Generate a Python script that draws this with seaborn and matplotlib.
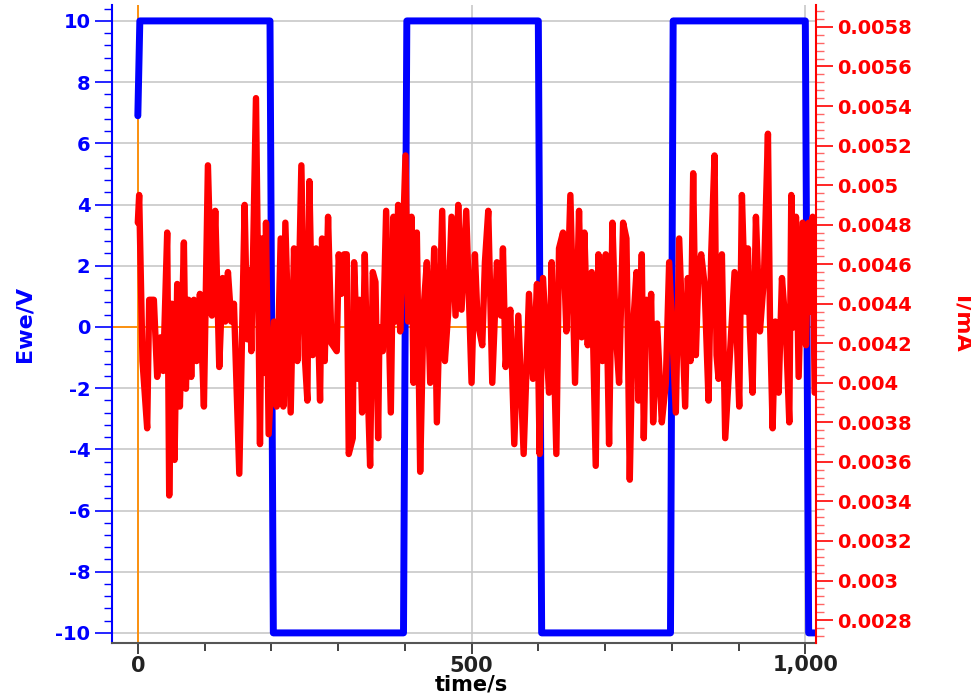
import matplotlib
matplotlib.use('Agg')
import matplotlib.pyplot as plt
import matplotlib.ticker as ticker
import seaborn as sns
import pandas as pd

# Ewe/V - square wave of the potential
ewe_time_s = [0, 3, 198, 203, 398, 403, 600, 605, 798, 802, 1000, 1005, 1015]
ewe_v = [6.9, 10, 10, -10, -10, 10, 10, -10, -10, 10, 10, -10, -10]

# I/mA - noisy current
i_time_s = [0, 2, 7, 14, 17, 24, 29, 34, 38, 44, 47, 51, 55, 59, 63, 69, 72, 76, 80, 84,
            88, 93, 99, 105, 111, 116, 122, 127, 131, 135, 140, 144, 152, 160, 164, 167, 170, 177, 183, 186,
            190, 192, 196, 204, 208, 214, 218, 221, 229, 234, 239, 245, 250, 254, 257, 262, 267, 273, 276, 280,
            285, 290, 298, 301, 305, 309, 313, 316, 322, 324, 330, 332, 336, 340, 344, 348, 352, 356, 360, 362,
            367, 372, 379, 383, 386, 390, 393, 401, 405, 410, 413, 418, 423, 428, 433, 438, 444, 448, 456, 460,
            465, 470, 476, 480, 485, 492, 500, 505, 509, 516, 520, 525, 531, 538, 544, 547, 551, 558, 564, 570,
            578, 586, 592, 598, 602, 607, 616, 620, 627, 631, 637, 642, 648, 655, 661, 665, 669, 674, 680, 686,
            690, 696, 701, 706, 711, 716, 721, 727, 732, 737, 741, 747, 750, 755, 758, 762, 766, 769, 772, 778,
            785, 791, 796, 806, 811, 820, 824, 828, 832, 836, 840, 844, 849, 855, 859, 864, 867, 870, 875, 880,
            886, 894, 901, 905, 910, 914, 917, 921, 926, 932, 938, 944, 947, 951, 955, 960, 965, 971, 976, 979,
            982, 986, 990, 996, 1001, 1005, 1008, 1011, 1014]
i_ma = [0.00481, 0.00495, 0.00411, 0.00377, 0.00442, 0.00442, 0.00403, 0.00423, 0.00406, 0.00476,
        0.00343, 0.00440, 0.00361, 0.00450, 0.00388, 0.00471, 0.00397, 0.00442, 0.00403, 0.00442,
        0.00411, 0.00445, 0.00388, 0.00510, 0.00434, 0.00487, 0.00408, 0.00453, 0.00431, 0.00456,
        0.00431, 0.00440, 0.00354, 0.00490, 0.00422, 0.00457, 0.00416, 0.00544, 0.00369, 0.00473,
        0.00405, 0.00481, 0.00374, 0.00431, 0.00388, 0.00473, 0.00388, 0.00481, 0.00385, 0.00468,
        0.00411, 0.00510, 0.00414, 0.00391, 0.00502, 0.00414, 0.00468, 0.00391, 0.00473, 0.00411,
        0.00484, 0.00420, 0.00416, 0.00465, 0.00445, 0.00465, 0.00465, 0.00364, 0.00372, 0.00461,
        0.00402, 0.00442, 0.00385, 0.00465, 0.00402, 0.00358, 0.00456, 0.00451, 0.00372, 0.00428,
        0.00416, 0.00487, 0.00385, 0.00484, 0.00431, 0.00490, 0.00426, 0.00515, 0.00431, 0.00484,
        0.00400, 0.00476, 0.00355, 0.00437, 0.00461, 0.00400, 0.00468, 0.00380, 0.00487, 0.00411,
        0.00436, 0.00484, 0.00434, 0.00490, 0.00437, 0.00487, 0.00400, 0.00465, 0.00431, 0.00419,
        0.00461, 0.00487, 0.00400, 0.00461, 0.00434, 0.00468, 0.00408, 0.00437, 0.00369, 0.00434,
        0.00364, 0.00445, 0.00402, 0.00450, 0.00364, 0.00453, 0.00395, 0.00461, 0.00364, 0.00468,
        0.00476, 0.00426, 0.00495, 0.00400, 0.00487, 0.00423, 0.00476, 0.00419, 0.00456, 0.00358,
        0.00465, 0.00411, 0.00465, 0.00369, 0.00481, 0.00426, 0.00400, 0.00481, 0.00473, 0.00351,
        0.00423, 0.00456, 0.00391, 0.00465, 0.00372, 0.00442, 0.00420, 0.00445, 0.00380, 0.00430,
        0.00380, 0.00400, 0.00461, 0.00385, 0.00473, 0.00388, 0.00453, 0.00411, 0.00506, 0.00414,
        0.00457, 0.00465, 0.00450, 0.00391, 0.00465, 0.00515, 0.00414, 0.00402, 0.00465, 0.00372,
        0.00408, 0.00456, 0.00388, 0.00495, 0.00436, 0.00468, 0.00426, 0.00395, 0.00484, 0.00426,
        0.00453, 0.00526, 0.00433, 0.00377, 0.00431, 0.00395, 0.00453, 0.00426, 0.00380, 0.00495,
        0.00428, 0.00484, 0.00403, 0.00481, 0.00419, 0.00481, 0.00436, 0.00484, 0.00395]

ewe_df = pd.DataFrame({'time/s': ewe_time_s, 'Ewe/V': ewe_v})
i_df = pd.DataFrame({'time/s': i_time_s, 'I/mA': i_ma})

BLUE = '#0000ff'
RED = '#ff0000'
ORANGE = '#ff8c00'

sns.set_style('white')
plt.rcParams['font.family'] = ['DejaVu Sans']
plt.rcParams['font.weight'] = 'bold'
plt.rcParams['axes.unicode_minus'] = False

fig = plt.figure(figsize = (9.71, 6.94), dpi = 100)
ax = fig.add_axes([112 / 971, 1 - 643 / 694, 704 / 971, 638 / 694])

# grid and the zero lines
ax.grid(True, which = 'major', color = '#c8c8c8', lw = 1.2)
ax.axvline(0, color = ORANGE, lw = 1.3, zorder = 1.5)
ax.axhline(0, color = ORANGE, lw = 1.3, zorder = 1.5)

sns.lineplot(data = ewe_df, x = 'time/s', y = 'Ewe/V', ax = ax, sort = False, estimator = None,
             color = BLUE, lw = 5, solid_capstyle = 'round', solid_joinstyle = 'round', zorder = 3)

ax2 = ax.twinx()
sns.lineplot(data = i_df, x = 'time/s', y = 'I/mA', ax = ax2, sort = False, estimator = None,
             color = RED, lw = 4.6, solid_capstyle = 'round', solid_joinstyle = 'round')
ax2.grid(False)

ax.set_xlim(-38.7, 1016)
ax.set_ylim(-10.33, 10.52)
ax2.set_ylim(0.002684, 0.005911)

# ticks
ax.xaxis.set_major_locator(ticker.MultipleLocator(500))
ax.xaxis.set_minor_locator(ticker.MultipleLocator(100))
ax.xaxis.set_major_formatter(ticker.FuncFormatter(lambda v, p: f"{v:,.0f}"))
ax.yaxis.set_major_locator(ticker.MultipleLocator(2))
ax.yaxis.set_minor_locator(ticker.MultipleLocator(0.4))
ax2.yaxis.set_major_locator(ticker.MultipleLocator(0.0002))
ax2.yaxis.set_minor_locator(ticker.MultipleLocator(0.00004))
ax2.yaxis.set_major_formatter(ticker.FuncFormatter(lambda v, p: '{:g}'.format(round(v, 5))))

ax.tick_params(axis = 'x', which = 'both', direction = 'out', colors = '#222222', labelsize = 15, pad = 1)
ax.tick_params(axis = 'x', which = 'major', length = 8, width = 1.2, bottom = True)
ax.tick_params(axis = 'x', which = 'minor', length = 6, width = 1.2, bottom = True)
ax.tick_params(axis = 'y', which = 'both', direction = 'out', colors = BLUE, labelsize = 14, left = True)
ax.tick_params(axis = 'y', which = 'major', length = 12, width = 1.2)
ax.tick_params(axis = 'y', which = 'minor', length = 6, width = 1)
ax2.tick_params(axis = 'y', which = 'both', direction = 'out', colors = RED, labelsize = 14, right = True)
ax2.tick_params(axis = 'y', which = 'major', length = 12, width = 1.2)
ax2.tick_params(axis = 'y', which = 'minor', length = 6, width = 1, color = '#ff6666')

for lbl in ax.get_xticklabels() + ax.get_yticklabels() + ax2.get_yticklabels():
    lbl.set_fontweight('bold')

# spines
for a in (ax, ax2):
    a.spines['top'].set_visible(False)
ax.spines['left'].set_color(BLUE)
ax.spines['left'].set_linewidth(1.5)
ax.spines['bottom'].set_color('#555555')
ax.spines['bottom'].set_linewidth(1.5)
ax.spines['right'].set_visible(False)
ax2.spines['left'].set_visible(False)
ax2.spines['bottom'].set_visible(False)
ax2.spines['right'].set_color(RED)
ax2.spines['right'].set_linewidth(1.5)

# axis labels
ax.set_xlabel('time/s', fontsize = 15, fontweight = 'bold', color = 'black')
ax.xaxis.set_label_coords(0.511, -0.05)
ax.set_ylabel('Ewe/V', fontsize = 16, fontweight = 'bold', color = BLUE)
ax.yaxis.set_label_coords(-0.11, 0.5)
ax2.set_ylabel('I/mA', fontsize = 16, fontweight = 'bold', color = RED, rotation = 270, va = 'center')
ax2.yaxis.set_label_coords(1.207, 0.5)

fig.savefig('out.png', dpi = 100)
